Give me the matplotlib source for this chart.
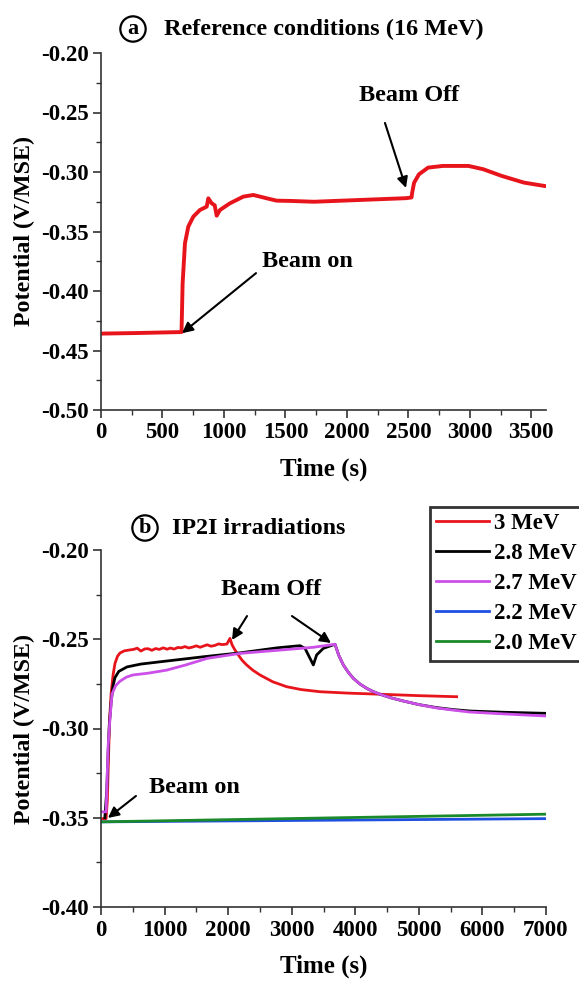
"""
Open circuit potential vs time, reference (16 MeV) and IP2I irradiations
"""

import matplotlib
matplotlib.use("Agg")
import matplotlib.pyplot as plt
from matplotlib.ticker import MultipleLocator, FormatStrFormatter

plt.rcParams['font.family'] = 'Liberation Serif'
plt.rcParams['font.weight'] = 'bold'

# (a) reference conditions, 16 MeV
t_ref = [0, 300, 655, 664, 683, 710, 751, 805, 860, 873, 900, 925, 941, 968,
         1049, 1158, 1239, 1348, 1429, 1538, 1732, 2032, 2481, 2526, 2532, 2547,
         2586, 2661, 2781, 2990, 3110, 3260, 3440, 3605]
v_ref = [-0.4358, -0.4353, -0.4345, -0.3935, -0.3599, -0.3459, -0.3375, -0.3319,
         -0.3291, -0.3221, -0.3263, -0.3280, -0.3367, -0.3319, -0.3263, -0.3207,
         -0.3193, -0.3221, -0.3241, -0.3243, -0.3250, -0.3238, -0.3220, -0.3214,
         -0.3170, -0.3090, -0.3020, -0.2963, -0.2949, -0.2949, -0.2977, -0.3033,
         -0.3089, -0.3117]

# (b) IP2I irradiations
t_3 = [0, 80, 100, 115, 135, 160, 190, 220, 260, 299, 366, 450, 511, 570, 627,
       690, 743, 800, 860, 917, 980, 1040, 1091, 1150, 1210, 1265, 1320, 1380,
       1439, 1500, 1560, 1613, 1670, 1730, 1788, 1850, 1904, 1980, 2029, 2060,
       2110, 2160, 2220, 2291, 2390, 2501, 2700, 2921, 3150, 3445, 3900, 4389,
       5000, 5594]
v_3 = [-0.3505, -0.3505, -0.3400, -0.3200, -0.2950, -0.2800, -0.2700, -0.2635,
       -0.2595, -0.2577, -0.2565, -0.2560, -0.2557, -0.2550, -0.2566, -0.2554,
       -0.2553, -0.2562, -0.2552, -0.2557, -0.2548, -0.2556, -0.2549, -0.2555,
       -0.2546, -0.2548, -0.2541, -0.2549, -0.2544, -0.2537, -0.2545, -0.2538,
       -0.2531, -0.2539, -0.2535, -0.2526, -0.2530, -0.2527, -0.2495, -0.2530,
       -0.2562, -0.2588, -0.2618, -0.2644, -0.2674, -0.2700, -0.2738, -0.2766,
       -0.2782, -0.2794, -0.2802, -0.2808, -0.2816, -0.2822]

t_28 = [60, 90, 110, 130, 160, 190, 220, 280, 409, 627, 1033, 1613, 2194, 2774,
        3130, 3209, 3340, 3392, 3497, 3681, 3740, 3812, 3890, 3969, 4070, 4179,
        4280, 4389, 4560, 4756, 5000, 5280, 5540, 5804, 6329, 7000]
v_28 = [-0.3500, -0.3350, -0.3150, -0.2980, -0.2850, -0.2760, -0.2715, -0.2680,
        -0.2655, -0.2639, -0.2622, -0.2598, -0.2576, -0.2548, -0.2536, -0.2551,
        -0.2644, -0.2588, -0.2551, -0.2528, -0.2590, -0.2644, -0.2685, -0.2719,
        -0.2750, -0.2775, -0.2793, -0.2808, -0.2828, -0.2846, -0.2866, -0.2883,
        -0.2894, -0.2902, -0.2909, -0.2915]

t_27 = [0, 80, 95, 112, 140, 173, 230, 299, 400, 503, 743, 1033, 1323, 1672,
        2194, 2775, 3340, 3681, 3740, 3812, 3890, 3969, 4070, 4179, 4280, 4389,
        4560, 4756, 5000, 5280, 5540, 5804, 6329, 7000]
v_27 = [-0.3467, -0.3467, -0.3300, -0.3100, -0.2950, -0.2807, -0.2760, -0.2735,
        -0.2712, -0.2700, -0.2690, -0.2673, -0.2645, -0.2607, -0.2579, -0.2562,
        -0.2545, -0.2528, -0.2590, -0.2644, -0.2685, -0.2719, -0.2750, -0.2775,
        -0.2793, -0.2808, -0.2828, -0.2846, -0.2866, -0.2885, -0.2897, -0.2908,
        -0.2918, -0.2930]

t_22 = [0, 7000]
v_22 = [-0.3523, -0.3505]

t_20 = [0, 7000]
v_20 = [-0.3523, -0.3480]

series_b = [("3 MeV", t_3, v_3, '#e8141c'),
            ("2.8 MeV", t_28, v_28, 'black'),
            ("2.7 MeV", t_27, v_27, '#cc4fe8'),
            ("2.2 MeV", t_22, v_22, '#1f4fe0'),
            ("2.0 MeV", t_20, v_20, '#1a8a2a')]

FS = 16.5
arrow_kw = dict(arrowstyle='-|>', color='black', lw=1.5, mutation_scale=16,
                shrinkA=0, shrinkB=0)


def style_axes(ax, xmaj, xmin, ymaj, ymin):
    """Origin-like look: left/bottom spines, outward ticks"""
    for s in ['top', 'right']:
        ax.spines[s].set_visible(False)
    for s in ['left', 'bottom']:
        ax.spines[s].set_linewidth(1.2)
        ax.spines[s].set_color('#333333')
    ax.xaxis.set_major_locator(MultipleLocator(xmaj))
    ax.xaxis.set_minor_locator(MultipleLocator(xmin))
    ax.yaxis.set_major_locator(MultipleLocator(ymaj))
    ax.yaxis.set_minor_locator(MultipleLocator(ymin))
    ax.yaxis.set_major_formatter(FormatStrFormatter('%.2f'))
    ax.tick_params(which='major', direction='out', length=6, width=1.2,
                   labelsize=FS, color='#333333', pad=3)
    ax.tick_params(which='minor', direction='out', length=3.5, width=1.0,
                   color='#333333')
    for lab in ax.get_xticklabels() + ax.get_yticklabels():
        lab.set_fontweight('bold')
    ax.set_xlabel("Time (s)", fontsize=18, fontweight='bold', labelpad=10)
    ax.set_ylabel("Potential (V/MSE)", fontsize=17.3, fontweight='bold',
                  labelpad=4)


fig = plt.figure(figsize=(5.79, 9.83), dpi=100)

# ---- panel a
ax1 = fig.add_axes([101/579, 1-410/983, 445/579, 357/983])
ax1.plot(t_ref, v_ref, color='#e8141c', lw=2.8)
ax1.set_xlim(0, 3620)
ax1.set_ylim(-0.50, -0.20)
style_axes(ax1, 500, 250, 0.05, 0.025)
ax1.annotate("", xy=(659, -0.4355), xytext=(1261, -0.385), arrowprops=arrow_kw)
ax1.text(1310, -0.3756, "Beam on", fontsize=17.5, fontweight='bold', va='center')
ax1.annotate("", xy=(2481, -0.3134), xytext=(2310, -0.2588), arrowprops=arrow_kw)
ax1.text(2099, -0.2353, "Beam Off", fontsize=17.5, fontweight='bold', va='center')

fig.text(133/579, 1-29/983, "a", fontsize=16, fontweight='bold', ha='center',
         va='center', bbox=dict(boxstyle='circle,pad=0.12', fc='none', ec='black', lw=1.6))
fig.text(164/579, 1-29/983, "Reference conditions (16 MeV)", fontsize=17.5,
         fontweight='bold', va='center')

# ---- panel b
ax2 = fig.add_axes([101/579, 1-907/983, 445/579, 357/983])
for label, t, v, col in series_b:
    ax2.plot(t, v, color=col, lw=2.0, label=label)
ax2.set_xlim(0, 7000)
ax2.set_ylim(-0.40, -0.20)
style_axes(ax2, 1000, 500, 0.05, 0.025)
ax2.annotate("", xy=(110, -0.3501), xytext=(550, -0.3378), arrowprops=arrow_kw)
ax2.text(755, -0.3328, "Beam on", fontsize=17.5, fontweight='bold', va='center')
ax2.annotate("", xy=(2061, -0.2504), xytext=(2297, -0.2370), arrowprops=arrow_kw)
ax2.annotate("", xy=(3618, -0.2521), xytext=(3004, -0.2370), arrowprops=arrow_kw)
ax2.text(1888, -0.2224, "Beam Off", fontsize=17.5, fontweight='bold', va='center')

fig.text(145/579, 1-528/983, "b", fontsize=16, fontweight='bold', ha='center',
         va='center', bbox=dict(boxstyle='circle,pad=0.12', fc='none', ec='black', lw=1.6))
fig.text(172/579, 1-528/983, "IP2I irradiations", fontsize=17.3,
         fontweight='bold', va='center')

leg = ax2.legend(loc='upper left', bbox_to_anchor=(430/579, 1-507/983),
                 bbox_transform=fig.transFigure, fontsize=16.5,
                 frameon=True, fancybox=False, handlelength=2.3,
                 handletextpad=0.2, labelspacing=0.39, borderpad=0.28,
                 borderaxespad=0)
leg.get_frame().set_edgecolor('black')
leg.get_frame().set_linewidth(2.0)
for txt in leg.get_texts():
    txt.set_fontweight('bold')

fig.savefig("out.png", dpi=100)
